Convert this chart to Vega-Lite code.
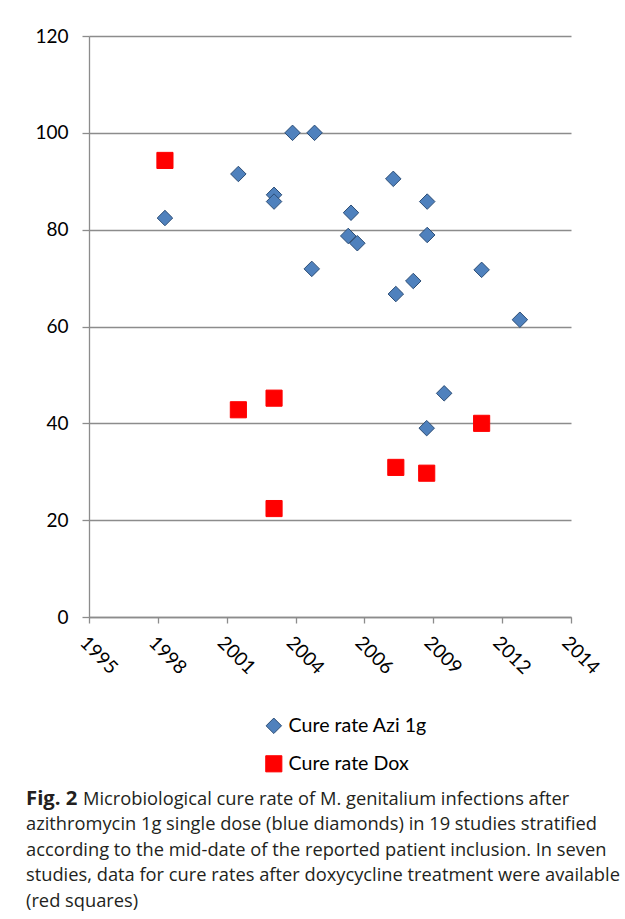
{
  "$schema": "https://vega.github.io/schema/vega-lite/v6.json",
  "width": 482,
  "height": 581,
  "autosize": {"type": "none"},
  "padding": {"left": 89, "top": 36, "right": 54, "bottom": 302},
  "background": "white",
  "config": {
    "view": {"stroke": null},
    "font": "Lato",
    "legend": {
      "orient": "none",
      "legendX": 175,
      "legendY": 680,
      "direction": "vertical",
      "padding": 0,
      "symbolStrokeWidth": 1,
      "labelFont": "Lato",
      "labelFontSize": 19.6,
      "labelColor": "#000000",
      "labelOffset": 5,
      "rowPadding": 17
    }
  },
  "title": {
    "text": "Fig. 2",
    "subtitle": [
      "\u200b\u00a0\u00a0\u00a0\u00a0\u00a0\u00a0\u00a0\u00a0\u00a0\u00a0\u00a0\u00a0Microbiological cure rate of M. genitalium infections after",
      "azithromycin 1g single dose (blue diamonds) in 19 studies stratified",
      "according to the mid-date of the reported patient inclusion. In seven",
      "studies, data for cure rates after doxycycline treatment were available",
      "(red squares)"
    ],
    "orient": "bottom",
    "anchor": "start",
    "frame": "group",
    "dx": -63,
    "offset": 15,
    "font": "Open Sans",
    "fontSize": 20.3,
    "fontWeight": "bold",
    "color": "#231f20",
    "subtitleFont": "Open Sans",
    "subtitleFontSize": 18.3,
    "subtitleFontWeight": "normal",
    "subtitleColor": "#231f20",
    "subtitleLineHeight": 25.5,
    "subtitlePadding": -18.6
  },
  "data": {
    "values": [
      {"year": 1998.90, "rate": 82.4, "series": "Cure rate Azi 1g"},
      {"year": 2001.80, "rate": 91.5, "series": "Cure rate Azi 1g"},
      {"year": 2003.21, "rate": 87.2, "series": "Cure rate Azi 1g"},
      {"year": 2003.21, "rate": 85.8, "series": "Cure rate Azi 1g"},
      {"year": 2003.94, "rate": 100, "series": "Cure rate Azi 1g"},
      {"year": 2004.81, "rate": 100, "series": "Cure rate Azi 1g"},
      {"year": 2004.70, "rate": 71.9, "series": "Cure rate Azi 1g"},
      {"year": 2006.14, "rate": 78.7, "series": "Cure rate Azi 1g"},
      {"year": 2006.25, "rate": 83.5, "series": "Cure rate Azi 1g"},
      {"year": 2006.50, "rate": 77.2, "series": "Cure rate Azi 1g"},
      {"year": 2007.92, "rate": 90.5, "series": "Cure rate Azi 1g"},
      {"year": 2008.02, "rate": 66.7, "series": "Cure rate Azi 1g"},
      {"year": 2008.71, "rate": 69.4, "series": "Cure rate Azi 1g"},
      {"year": 2009.26, "rate": 85.8, "series": "Cure rate Azi 1g"},
      {"year": 2009.26, "rate": 78.9, "series": "Cure rate Azi 1g"},
      {"year": 2009.24, "rate": 39.0, "series": "Cure rate Azi 1g"},
      {"year": 2009.93, "rate": 46.2, "series": "Cure rate Azi 1g"},
      {"year": 2011.41, "rate": 71.7, "series": "Cure rate Azi 1g"},
      {"year": 2012.92, "rate": 61.4, "series": "Cure rate Azi 1g"},
      {"year": 1998.90, "rate": 94.3, "series": "Cure rate Dox"},
      {"year": 2001.80, "rate": 42.8, "series": "Cure rate Dox"},
      {"year": 2003.21, "rate": 45.2, "series": "Cure rate Dox"},
      {"year": 2003.21, "rate": 22.4, "series": "Cure rate Dox"},
      {"year": 2008.02, "rate": 30.9, "series": "Cure rate Dox"},
      {"year": 2009.24, "rate": 29.7, "series": "Cure rate Dox"},
      {"year": 2011.41, "rate": 40.0, "series": "Cure rate Dox"}
    ]
  },
  "mark": {"type": "point", "filled": true, "opacity": 1, "strokeWidth": 1},
  "encoding": {
    "x": {
      "field": "year",
      "type": "quantitative",
      "scale": {"domain": [1995.9, 2014.94], "nice": false, "zero": false},
      "axis": {
        "title": null,
        "grid": false,
        "values": [1995.9, 1998.62, 2001.34, 2004.06, 2006.78, 2009.5, 2012.22, 2014.94],
        "labelExpr": "floor(datum.value + 0.001)",
        "labelAngle": 45,
        "labelFontSize": 19,
        "labelColor": "#000000",
        "labelPadding": 10,
        "domainColor": "#8c8c8c",
        "domainWidth": 1.3,
        "tickColor": "#8c8c8c",
        "tickSize": 6,
        "tickWidth": 1.3,
        "labelOverlap": false,
        "labelFlush": false
      }
    },
    "y": {
      "field": "rate",
      "type": "quantitative",
      "scale": {"domain": [0, 120], "nice": false},
      "axis": {
        "title": null,
        "values": [0, 20, 40, 60, 80, 100, 120],
        "grid": true,
        "gridColor": "#8c8c8c",
        "gridWidth": 1.3,
        "domainColor": "#8c8c8c",
        "domainWidth": 1.3,
        "tickColor": "#8c8c8c",
        "tickSize": 7,
        "tickWidth": 1.3,
        "labelFontSize": 19,
        "labelColor": "#000000",
        "labelPadding": 14
      }
    },
    "shape": {
      "field": "series",
      "type": "nominal",
      "title": null,
      "scale": {"domain": ["Cure rate Azi 1g", "Cure rate Dox"], "range": ["diamond", "square"]}
    },
    "color": {
      "field": "series",
      "type": "nominal",
      "title": null,
      "scale": {"domain": ["Cure rate Azi 1g", "Cure rate Dox"], "range": ["#4f81bd", "#ff0000"]}
    },
    "stroke": {
      "field": "series",
      "type": "nominal",
      "title": null,
      "scale": {"domain": ["Cure rate Azi 1g", "Cure rate Dox"], "range": ["#2c4d75", "#ff0000"]}
    },
    "size": {
      "field": "series",
      "type": "nominal",
      "title": null,
      "scale": {"domain": ["Cure rate Azi 1g", "Cure rate Dox"], "range": [240, 260]}
    }
  }
}
